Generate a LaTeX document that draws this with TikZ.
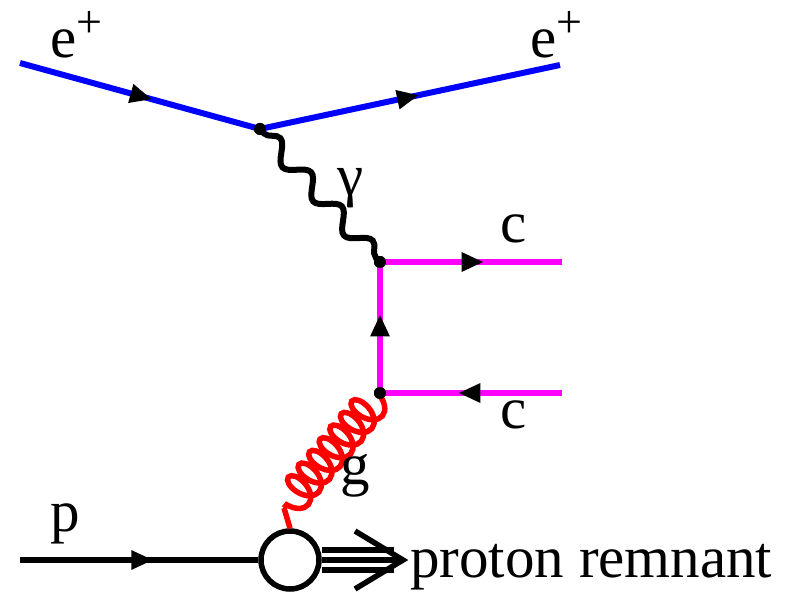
\documentclass[tikz,border=0pt]{standalone}
\usepackage{fontspec}
\setmainfont{Liberation Serif}
\usetikzlibrary{decorations.pathmorphing,decorations.markings,arrows.meta}
\definecolor{qmag}{RGB}{255,0,255}
\definecolor{eblue}{RGB}{0,0,255}
\definecolor{gred}{RGB}{255,0,0}
\begin{document}
\begin{tikzpicture}[x=1pt,y=-1pt,
  lbl/.style={anchor=base west,inner sep=0pt,font=\fontsize{59}{66}\selectfont},
  fermion/.style={line width=6pt},
  arrowat/.style={postaction={decorate,decoration={markings,mark=at position #1 with {\arrow[black]{Triangle[length=22pt,width=18pt]}}}}},
  vdot/.style={circle,fill=black,inner sep=0pt,minimum size=12pt},
  photon/.style={line width=6pt,decorate,decoration={snake,amplitude=9pt,segment length=46pt,pre length=6pt,post length=6pt}},
  gluon/.style={line width=5.5pt,gred,decorate,decoration={coil,amplitude=16.5pt,segment length=16.5pt,aspect=0.6,pre length=2pt,post length=2pt}}]
\useasboundingbox (0,0) rectangle (790,596);
% coordinates
\coordinate (ein) at (20,63);
\coordinate (eout) at (560,65);
\node[vdot] (ev) at (260,129) {};
\node[vdot] (qt) at (380,262) {};
\node[vdot] (qb) at (380,393) {};
\coordinate (cout) at (562,262);
\coordinate (cbin) at (562,393);
\coordinate (pin) at (20,560);
\node[circle,draw,line width=5.5pt,minimum size=58pt,inner sep=0pt] (blob) at (290,560) {};
\coordinate (gend) at (284,508);
\coordinate (rtip) at (403,560);
% electron line
\draw[fermion,eblue,arrowat=0.55] (ein) -- (ev.center);
\draw[fermion,eblue,arrowat=0.53] (ev.center) -- (eout);
% photon
\draw[photon] (ev.center) -- (qt.center);
% quarks
\draw[fermion,qmag,arrowat=0.57] (qt.center) -- (cout);
\draw[fermion,qmag,arrowat=0.6] (qb.center) -- (qt.center);
\draw[fermion,qmag,arrowat=0.57] (cbin) -- (qb.center);
% gluon
\draw[gluon] (qb.center) -- (gend);
\draw[line width=5.5pt,gred] (gend) -- (blob.north);
% proton
\draw[fermion,arrowat=0.56] (pin) -- (blob.west);
% remnant
\draw[line width=5.5pt] ([yshift=-10pt]blob.east) -- +(72,0);
\draw[line width=5.5pt] (blob.east) -- (rtip);
\draw[line width=5.5pt] ([yshift=10pt]blob.east) -- +(72,0);
\draw[line width=5.5pt,line join=miter] (355,531) -- (rtip) -- (355,589);
% redraw dots on top
\fill (ev) circle (6pt);
\fill (qt) circle (6pt);
\fill (qb) circle (6pt);
% labels
\node[lbl] (l1) at (50,58) {e\raisebox{20pt}{\fontsize{46}{46}\selectfont +}};
\node[lbl] (l2) at (530,58) {e\raisebox{20pt}{\fontsize{46}{46}\selectfont +}};
\node[lbl] (lg) at (337,196) {γ};
\node[lbl] (lc1) at (500,243) {c};
\node[lbl] (lc2) at (500,428) {c};
\node[lbl] (lgl) at (340,484) {g};
\node[lbl] (lp) at (50,531) {p};
\node[lbl] (lr) at (410,577) {proton remnant};
\end{tikzpicture}
\end{document}
